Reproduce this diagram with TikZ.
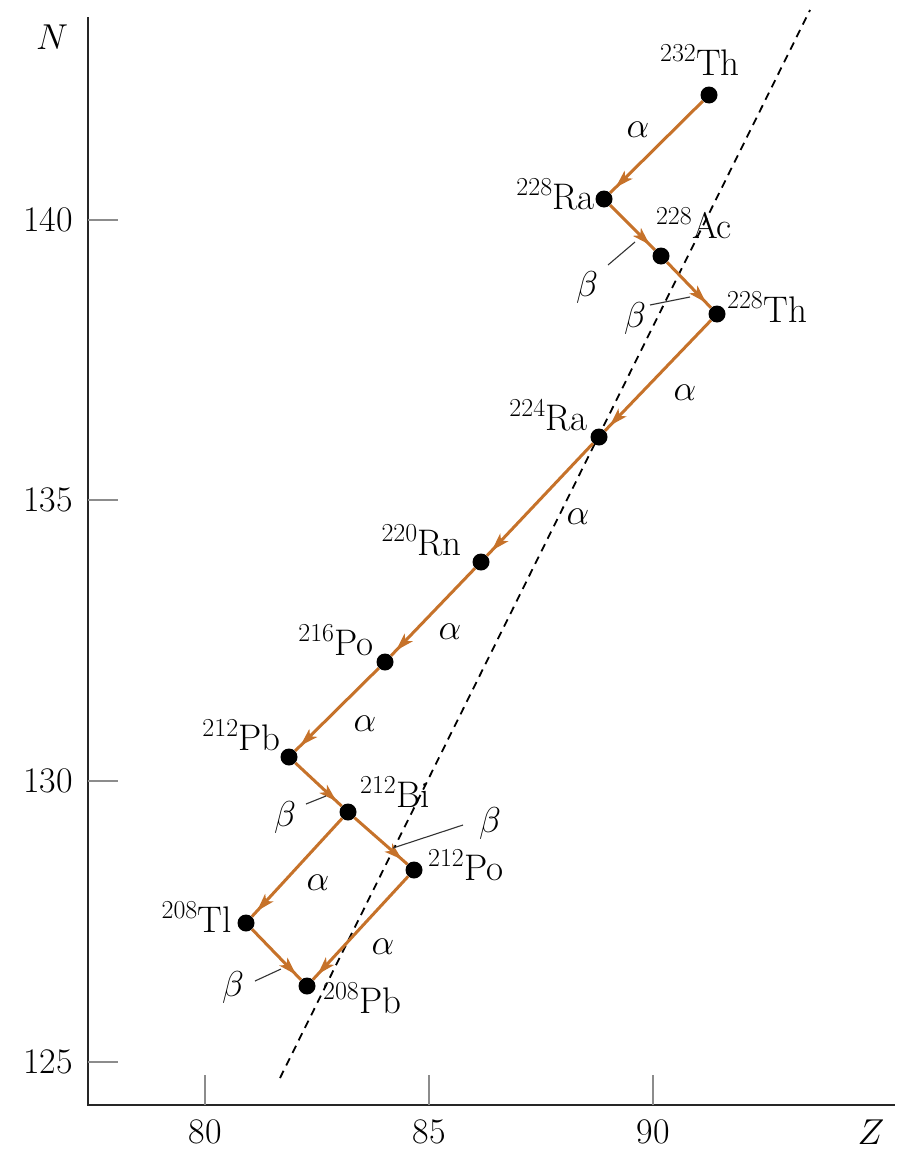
\RequirePackage{fix-cm}
\documentclass[tikz,border=0pt]{standalone}
\usetikzlibrary{arrows.meta,decorations.markings}
\definecolor{decaycol}{RGB}{198,114,42}
\tikzset{
  axis/.style={line width=2.4pt,black!85},
  tickline/.style={line width=1.2pt,black!45},
  numlbl/.style={font=\fontsize{36}{40}\selectfont,inner sep=0pt},
  nuc/.style={circle,fill=black,inner sep=0pt,minimum size=17pt},
  lbl/.style={font=\fontsize{37}{42}\selectfont,inner sep=0pt},
  glbl/.style={font=\fontsize{36}{40}\selectfont,inner sep=0pt},
  stab/.style={line width=1.8pt,dash pattern=on 8pt off 6pt},
  leader/.style={line width=1.1pt,black!80},
  decay/.style={draw=decaycol,line width=3pt,postaction={decorate},
    decoration={markings,mark=at position -7pt with
      {\arrow{Stealth[length=18pt,width=11pt,inset=4.5pt,color=decaycol]}}}}
}
\begin{document}
\begin{tikzpicture}[x=1pt,y=-1pt]
\useasboundingbox (0,0) rectangle (899,1151);
% axes
\coordinate (ytop) at (88,17);
\coordinate (orig) at (88,1105);
\coordinate (xend) at (895,1105);
\draw[axis] (ytop) -- (orig) -- (xend);
\foreach \y/\n in {220/140,500/135,781/130,1062/125}{
  \draw[tickline] (88,\y) -- (118,\y);
  \node[numlbl,anchor=east] at (73,\y) {\n};
}
\foreach \x/\n in {205/80,429/85,653/90}{
  \draw[tickline] (\x,1105) -- (\x,1075);
  \node[numlbl] at (\x,1132) {\n};
}
\node[numlbl] (nlab) at (52,37) {$N$};
\node[numlbl] (zlab) at (871,1132) {$Z$};
% stability line
\coordinate (d1) at (280,1078);
\coordinate (d2) at (810,10);
\draw[stab] (d1) -- (d2);
% nuclides
\node[nuc] (th232) at (709,95) {};
\node[nuc] (ra228) at (604,199) {};
\node[nuc] (ac228) at (661,256) {};
\node[nuc] (th228) at (717,314) {};
\node[nuc] (ra224) at (599,437) {};
\node[nuc] (rn220) at (481,562) {};
\node[nuc] (po216) at (385,662) {};
\node[nuc] (pb212) at (289,757) {};
\node[nuc] (bi212) at (348,812) {};
\node[nuc] (po212) at (414,870) {};
\node[nuc] (tl208) at (246,923) {};
\node[nuc] (pb208) at (307,986) {};
% labels
\node[lbl,anchor=base] (tth232) at (700,75) {\textsuperscript{232}Th};
\node[lbl,anchor=base east] (tra228) at (595,209) {\textsuperscript{228}Ra};
\node[lbl,anchor=base] (tac228) at (694,238) {\textsuperscript{228}Ac};
\node[lbl,anchor=base west] (tth228) at (727,322) {\textsuperscript{228}Th};
\node[lbl,anchor=base east] (tra224) at (588,430) {\textsuperscript{224}Ra};
\node[lbl,anchor=base east] (trn220) at (462,555) {\textsuperscript{220}Rn};
\node[lbl,anchor=base east] (tpo216) at (374,655) {\textsuperscript{216}Po};
\node[lbl,anchor=base east] (tpb212) at (281,750) {\textsuperscript{212}Pb};
\node[lbl,anchor=base west] (tbi212) at (360,807) {\textsuperscript{212}Bi};
\node[lbl,anchor=base west] (tpo212) at (428,880) {\textsuperscript{212}Po};
\node[lbl,anchor=base east] (ttl208) at (232,932) {\textsuperscript{208}Tl};
\node[lbl,anchor=base west] (tpb208) at (323,1013) {\textsuperscript{208}Pb};
% decays
\draw[decay] (th232) -- (ra228);
\draw[decay] (ra228) -- (ac228);
\draw[decay] (ac228) -- (th228);
\draw[decay] (th228) -- (ra224);
\draw[decay] (ra224) -- (rn220);
\draw[decay] (rn220) -- (po216);
\draw[decay] (po216) -- (pb212);
\draw[decay] (pb212) -- (bi212);
\draw[decay] (bi212) -- (po212);
\draw[decay] (bi212) -- (tl208);
\draw[decay] (po212) -- (pb208);
\draw[decay] (tl208) -- (pb208);
% decay labels
\node[glbl] (a1) at (638,130) {$\alpha$};
\node[glbl] (a2) at (685,393) {$\alpha$};
\node[glbl] (a3) at (578,517) {$\alpha$};
\node[glbl] (a4) at (450,632) {$\alpha$};
\node[glbl] (a5) at (365,724) {$\alpha$};
\node[glbl] (a6) at (318,883) {$\alpha$};
\node[glbl] (a7) at (383,947) {$\alpha$};
\node[glbl] (b1) at (587,287) {$\beta$};
\node[glbl] (b2) at (635,318) {$\beta$};
\node[glbl] (b3) at (285,817) {$\beta$};
\node[glbl] (b4) at (490,823) {$\beta$};
\node[glbl] (b5) at (233,987) {$\beta$};
% leader lines
\coordinate (l1a) at (608,265); \coordinate (l1b) at (635,242);
\coordinate (l2a) at (650,305); \coordinate (l2b) at (690,297);
\coordinate (l3a) at (306,804); \coordinate (l3b) at (326,796);
\coordinate (l4a) at (463,825); \coordinate (l4b) at (393,848);
\coordinate (l5a) at (255,981); \coordinate (l5b) at (281,969);
\draw[leader] (l1a) -- (l1b);
\draw[leader] (l2a) -- (l2b);
\draw[leader] (l3a) -- (l3b);
\draw[leader] (l4a) -- (l4b);
\draw[leader] (l5a) -- (l5b);
\end{tikzpicture}
\end{document}
